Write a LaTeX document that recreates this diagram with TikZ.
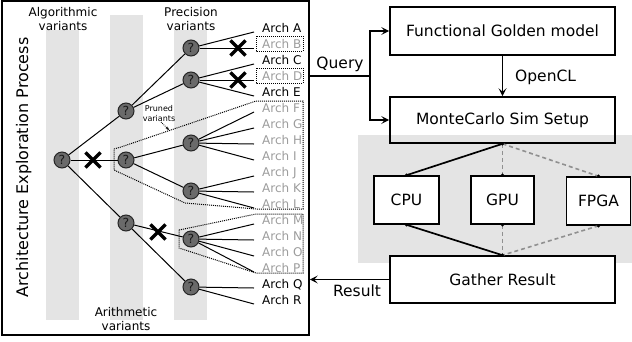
\documentclass[tikz,border=0pt]{standalone}
\usepackage{fontspec}
\setmainfont{DejaVu Sans}
\usetikzlibrary{arrows.meta,shapes.misc}
\definecolor{band}{HTML}{E4E4E4}
\definecolor{qfill}{HTML}{6A6A6A}
\definecolor{pruned}{HTML}{9C9C9C}
\definecolor{dashgray}{HTML}{909090}
\begin{document}
\begin{tikzpicture}[x=1pt,y=-1pt,
  qn/.style={circle,draw=black!85,fill=qfill,line width=1pt,minimum size=16pt,inner sep=0pt,
    font=\fontsize{12.5}{12.5}\selectfont,text=black!90},
  tedge/.style={line width=1pt,black},
  leaf/.style={anchor=base west,inner sep=0pt,font=\fontsize{12}{12}\selectfont},
  gleaf/.style={leaf,text=pruned},
  xmark/.style={cross out,draw=black,line width=3.2pt,minimum size=12pt,inner sep=0pt},
  dbox/.style={densely dotted,line width=1pt,black},
  vlabel/.style={align=center,font=\fontsize{12}{14}\selectfont,inner sep=0pt},
  bigbox/.style={draw=black,line width=1.6pt,inner sep=0pt,font=\fontsize{15.5}{16}\selectfont},
  conn/.style={line width=1.7pt,black},
  tip/.style={-{Stealth[length=8pt,width=8pt,inset=3.5pt]}},
  dashed gray/.style={dashgray,line width=1.6pt,dash pattern=on 4pt off 3pt},
  solid link/.style={black,line width=1.7pt},
  pdot/.style={circle,fill=black,inner sep=0pt,minimum size=3.5pt},
  lab/.style={font=\fontsize{15.5}{16}\selectfont,inner sep=0pt}
]
\useasboundingbox (0,0) rectangle (632,341);

% ---------------- left panel ----------------
% variant bands
\fill[band] (46,30) rectangle (79,320);
\fill[band] (110,15) rectangle (143,320);
\fill[band] (174,30) rectangle (207,320);

% outer box
\node[draw=black,line width=1.6pt,minimum width=307pt,minimum height=334pt,inner sep=0pt] (explore) at (155.5,168) {};

% title
\node[rotate=90,anchor=base,inner sep=0pt,font=\fontsize{16}{16}\selectfont] (title) at (28,167.5) {Architecture Exploration Process};

% variant labels
\node[vlabel] (alglab) at (63,19) {Algorithmic\\variants};
\node[vlabel] (preclab) at (191,19) {Precision\\variants};
\node[vlabel] (arithlab) at (126,319) {Arithmetic\\variants};

% pruned regions
\draw[dbox] (114,149) -- (121,147) -- (256,101) -- (303,101) -- (303,209) -- (256,209) -- (185,203) -- (114,170) -- cycle;
\draw[dbox] (179,230) -- (184,229) -- (256,214) -- (303,214) -- (303,273) -- (256,273) -- (179,248) -- cycle;
\draw[dbox] (256,36) rectangle (303,51);
\draw[dbox] (256,68) rectangle (303,83);

% pruned label
\node[align=center,inner sep=0pt,font=\fontsize{8}{10}\selectfont] (prunedlab) at (159,114) {Pruned\\variants};
\coordinate (pa) at (161,122);
\coordinate (pb) at (169,130);
\draw[densely dotted,line width=0.8pt,-{Stealth[length=3.5pt,width=3pt]}] (pa) -- (pb);

% tree nodes
\node[qn] (root) at (62,160) {?};
\node[qn] (a1) at (126,111) {?};
\node[qn] (a2) at (126,160) {?};
\node[qn] (a3) at (126,223) {?};
\node[qn] (p1) at (191,48) {?};
\node[qn] (p2) at (191,80) {?};
\node[qn] (p3) at (191,143) {?};
\node[qn] (p4) at (191,191) {?};
\node[qn] (p5) at (191,239) {?};
\node[qn] (p6) at (191,287) {?};

% leaf end points
\foreach \n [count=\i from 0] in {A,B,C,D,E,F,G,H,I,J,K,L,M,N,O,P,Q,R}{
  \coordinate (l\n) at (254,32+16*\i);
}

% leaf labels
\node[leaf]  (tA) at (262,32)  {Arch A};
\node[gleaf] (tB) at (262,48)  {Arch B};
\node[leaf]  (tC) at (262,64)  {Arch C};
\node[gleaf] (tD) at (262,80)  {Arch D};
\node[leaf]  (tE) at (262,96)  {Arch E};
\node[gleaf] (tF) at (262,112) {Arch F};
\node[gleaf] (tG) at (262,128) {Arch G};
\node[gleaf] (tH) at (262,144) {Arch H};
\node[gleaf] (tI) at (262,160) {Arch I};
\node[gleaf] (tJ) at (262,176) {Arch J};
\node[gleaf] (tK) at (262,192) {Arch K};
\node[gleaf] (tL) at (262,208) {Arch L};
\node[gleaf] (tM) at (262,224) {Arch M};
\node[gleaf] (tN) at (262,240) {Arch N};
\node[gleaf] (tO) at (262,256) {Arch O};
\node[gleaf] (tP) at (262,272) {Arch P};
\node[leaf]  (tQ) at (262,288) {Arch Q};
\node[leaf]  (tR) at (262,304) {Arch R};

% tree edges
\draw[tedge] (root) -- (a1);
\draw[tedge] (root) -- (a2);
\draw[tedge] (root) -- (a3);
\draw[tedge] (a1) -- (p1);
\draw[tedge] (a1) -- (p2);
\draw[tedge] (a2) -- (p3);
\draw[tedge] (a2) -- (p4);
\draw[tedge] (a3) -- (p5);
\draw[tedge] (a3) -- (p6);
\foreach \n in {A,B}{\draw[tedge] (p1) -- (l\n);}
\foreach \n in {C,D,E}{\draw[tedge] (p2) -- (l\n);}
\foreach \n in {F,G,H,I}{\draw[tedge] (p3) -- (l\n);}
\foreach \n in {J,K,L}{\draw[tedge] (p4) -- (l\n);}
\foreach \n in {M,N,O,P}{\draw[tedge] (p5) -- (l\n);}
\foreach \n in {Q,R}{\draw[tedge] (p6) -- (l\n);}

% crosses
\node[xmark] (x1) at (93,160) {};
\node[xmark] (x2) at (238,48) {};
\node[xmark] (x3) at (238,80) {};
\node[xmark] (x4) at (158,232) {};

% ---------------- right panel ----------------
\fill[band] (358,135) rectangle (632,263);

\node[bigbox,minimum width=225pt,minimum height=48pt] (fgm) at (502.5,31) {Functional Golden model};
\node[bigbox,minimum width=225pt,minimum height=46pt] (sim) at (502.5,120) {MonteCarlo Sim Setup};
\node[bigbox,minimum width=65pt,minimum height=48pt,fill=white] (cpu) at (406.5,200) {CPU};
\node[bigbox,minimum width=63pt,minimum height=48pt,fill=white] (gpu) at (502.5,200) {GPU};
\node[bigbox,minimum width=64pt,minimum height=48pt,fill=white] (fpga) at (598.5,201) {FPGA};
\node[bigbox,minimum width=225pt,minimum height=47pt,fill=white] (gather) at (502.5,279.5) {Gather Result};

% compute links
\draw[solid link] (sim.south) -- (cpu.north);
\draw[dashed gray] (sim.south) -- (gpu.north);
\draw[dashed gray] (sim.south) -- (fpga.north);
\draw[solid link] (cpu.south) -- (gather.north);
\draw[dashed gray] (gpu.south) -- (gather.north);
\draw[dashed gray] (fpga.south) -- (gather.north);
\foreach \a in {sim.south,cpu.north,gpu.north,fpga.north,cpu.south,gpu.south,fpga.south,gather.north}{
  \node[pdot] at (\a) {};
}

% query
\coordinate (qj) at (370,76);
\draw[conn] (explore.east |- qj) -- (qj);
\draw[conn,tip] (qj) |- (fgm.west);
\draw[conn,tip] (qj) |- (sim.west);
\node[lab,anchor=base] (qlab) at (340,68) {Query};

% OpenCL
\draw[conn,tip] (fgm.south) -- (sim.north);
\node[lab,anchor=base west] (ocl) at (515,81) {OpenCL};

% result
\draw[conn,tip] (gather.west) -- (explore.east |- gather.west);
\node[lab,anchor=base] (rlab) at (357,296) {Result};
\end{tikzpicture}
\end{document}
